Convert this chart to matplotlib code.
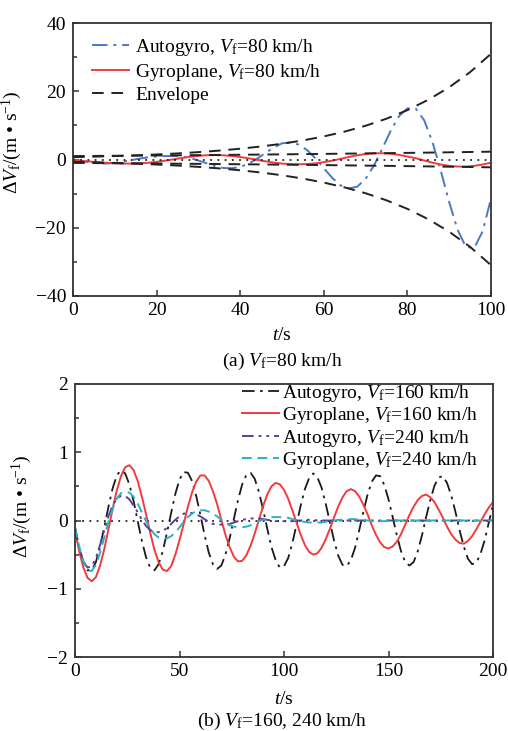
import numpy as np
import matplotlib
matplotlib.use('Agg')
import matplotlib.pyplot as plt

# --- Fonts ---
plt.rcParams['font.family'] = ['Liberation Serif', 'DejaVu Serif']
plt.rcParams['mathtext.fontset'] = 'custom'
plt.rcParams['mathtext.rm'] = 'Liberation Serif'
plt.rcParams['mathtext.it'] = 'Liberation Serif:italic'
plt.rcParams['font.size'] = 14

# --- (a) Vf = 80 km/h, sampled every 2 s ---
t_80 = list(range(0, 101, 2))
autogyro_80 = [0.06, -0.44, -0.87, -1.14, -1.19, -0.99, -0.62, -0.17, 0.27, 0.65,
               0.91, 1.00, 1.05, 0.88, 0.43, -0.29, -1.12, -1.93, -2.49, -2.56,
               -2.18, -1.22, 0.19, 1.87, 3.50, 4.74, 4.98, 4.38, 2.76, 0.35,
               -2.55, -5.37, -7.58, -8.45, -7.97, -5.67, -1.77, 3.20, 8.41, 12.71,
               15.00, 14.89, 11.52, 5.15, -3.35, -12.51, -20.57, -25.65, -25.88, -21.05,
               -11.47]
gyroplane_80 = [-0.20, -0.40, -0.60, -0.80, -0.97, -1.10, -1.18, -1.20, -1.14, -0.96,
                -0.69, -0.35, 0.03, 0.43, 0.79, 1.08, 1.25, 1.30, 1.22, 1.03,
                0.73, 0.35, -0.08, -0.52, -0.90, -1.19, -1.36, -1.40, -1.33, -1.12,
                -0.78, -0.34, 0.18, 0.75, 1.24, 1.61, 1.81, 1.84, 1.68, 1.35,
                0.88, 0.37, -0.29, -0.93, -1.47, -1.86, -2.07, -2.07, -1.87, -1.47,
                -0.93]

# envelopes (upper half, mirrored for the lower one)
t_env_auto = list(range(0, 101, 5))
env_autogyro = [0.69, 0.83, 1.01, 1.22, 1.47, 1.78, 2.16, 2.61, 3.16, 3.82, 4.62,
                5.59, 6.76, 8.18, 9.89, 11.96, 14.47, 17.50, 21.17, 25.60, 30.97]
t_env_gyro = list(range(0, 101, 10))
env_gyroplane = [1.00, 1.09, 1.18, 1.28, 1.39, 1.51, 1.64, 1.79, 1.94, 2.11, 2.29]

# --- (b) Vf = 160, 240 km/h, sampled every 2 s ---
t_b = list(range(0, 201, 2))
autogyro_160 = [-0.10, -0.39, -0.61, -0.73, -0.73, -0.61, -0.38, -0.10, 0.20, 0.47,
                0.66, 0.74, 0.69, 0.53, 0.29, -0.01, -0.30, -0.54, -0.69, -0.73,
                -0.64, -0.45, -0.18, 0.11, 0.39, 0.60, 0.71, 0.70, 0.58, 0.36,
                0.08, -0.21, -0.47, -0.64, -0.71, -0.66, -0.50, -0.26, 0.02, 0.30,
                0.53, 0.67, 0.70, 0.61, 0.42, 0.16, -0.12, -0.39, -0.58, -0.69,
                -0.67, -0.55, -0.33, -0.06, 0.22, 0.46, 0.62, 0.69, 0.63, 0.48,
                0.24, -0.03, -0.30, -0.52, -0.65, -0.67, -0.58, -0.40, -0.14, 0.13,
                0.38, 0.57, 0.66, 0.65, 0.52, 0.31, 0.05, -0.22, -0.45, -0.61,
                -0.66, -0.61, -0.45, -0.22, 0.05, 0.30, 0.51, 0.63, 0.65, 0.55,
                0.37, 0.13, -0.14, -0.38, -0.56, -0.64, -0.62, -0.49, -0.29, -0.03,
                0.23]
gyroplane_160 = [-0.14, -0.45, -0.69, -0.84, -0.89, -0.83, -0.66, -0.42, -0.13, 0.17,
                 0.44, 0.65, 0.78, 0.81, 0.74, 0.58, 0.35, 0.09, -0.18, -0.43,
                 -0.61, -0.72, -0.74, -0.67, -0.50, -0.29, -0.05, 0.20, 0.41, 0.57,
                 0.66, 0.66, 0.58, 0.43, 0.24, 0.01, -0.21, -0.39, -0.53, -0.60,
                 -0.59, -0.51, -0.37, -0.19, 0.01, 0.21, 0.38, 0.50, 0.55, 0.53,
                 0.45, 0.32, 0.15, -0.03, -0.21, -0.36, -0.46, -0.50, -0.48, -0.40,
                 -0.27, -0.12, 0.05, 0.21, 0.34, 0.43, 0.46, 0.43, 0.35, 0.23,
                 0.09, -0.07, -0.21, -0.32, -0.39, -0.41, -0.38, -0.31, -0.20, -0.06,
                 0.08, 0.20, 0.30, 0.36, 0.38, 0.34, 0.27, 0.16, 0.04, -0.09,
                 -0.20, -0.28, -0.33, -0.34, -0.30, -0.23, -0.13, -0.02, 0.09, 0.19,
                 0.27]
autogyro_240 = [-0.12, -0.40, -0.60, -0.69, -0.67, -0.55, -0.36, -0.14, 0.06, 0.22,
                0.32, 0.36, 0.36, 0.31, 0.22, 0.12, 0.01, -0.08, -0.14, -0.17,
                -0.17, -0.15, -0.11, -0.05, 0.01, 0.06, 0.10, 0.11, 0.11, 0.09,
                0.06, 0.02, -0.02, -0.05, -0.06, -0.06, -0.06, -0.05, -0.03, -0.01,
                0.01, 0.02, 0.03, 0.03, 0.03, 0.02, 0.01, 0.00, -0.01, -0.01,
                -0.01, -0.01, -0.01, 0.00, 0.00, 0.01, 0.01, 0.01, 0.00, 0.00,
                0.00, 0.00, 0.00, 0.00, 0.00, 0.00, 0.00, 0.00, 0.00, 0.00,
                0.00, 0.00, 0.00, 0.00, 0.00, 0.00, 0.00, 0.00, 0.00, 0.00,
                0.00, 0.00, 0.00, 0.00, 0.00, 0.00, 0.00, 0.00, 0.00, 0.00,
                0.00, 0.00, 0.00, 0.00, 0.00, 0.00, 0.00, 0.00, 0.00, 0.00,
                0.00]
gyroplane_240 = [-0.10, -0.38, -0.60, -0.73, -0.74, -0.65, -0.47, -0.25, -0.02, 0.17,
                 0.32, 0.40, 0.42, 0.41, 0.35, 0.25, 0.12, -0.01, -0.12, -0.20,
                 -0.25, -0.26, -0.26, -0.23, -0.17, -0.10, -0.02, 0.05, 0.10, 0.14,
                 0.15, 0.15, 0.13, 0.10, 0.06, 0.01, -0.03, -0.07, -0.09, -0.10,
                 -0.10, -0.09, -0.07, -0.04, -0.01, 0.01, 0.03, 0.05, 0.05, 0.05,
                 0.05, 0.04, 0.02, 0.00, -0.01, -0.02, -0.03, -0.03, -0.03, -0.03,
                 -0.02, -0.01, 0.00, 0.01, 0.01, 0.02, 0.02, 0.02, 0.01, 0.01,
                 0.00, -0.01, -0.01, -0.01, -0.01, 0.00, 0.00, 0.00, 0.00, 0.00,
                 0.00, 0.00, 0.00, 0.00, 0.00, 0.00, 0.00, 0.00, 0.00, 0.00,
                 0.00, 0.00, 0.00, 0.00, 0.00, 0.00, 0.00, 0.00, 0.00, 0.00,
                 0.00]

VF = r'$V_\mathrm{f}$'
FS = 14


def style_axes(ax):
    for sp in ax.spines.values():
        sp.set_linewidth(1.3)
        sp.set_color('#333333')
    ax.tick_params(which='both', direction='in', width=1.1, color='#333333')
    ax.tick_params(which='major', length=4.5, labelsize=FS)
    ax.tick_params(axis='x', pad=4)
    ax.tick_params(axis='y', pad=5)
    ax.tick_params(which='minor', length=3)


fig = plt.figure(figsize=(5.08, 7.31), dpi=100)

# ---------- (a) ----------
ax1 = fig.add_axes([73 / 508, 1 - 296 / 731, 418 / 508, 273 / 731])
ax1.plot(t_80, autogyro_80, color='#4a78c2', lw=1.4, dashes=(8, 3, 1.5, 3),
         label='Autogyro, ' + VF + '=80 km/h')
ax1.plot(t_80, gyroplane_80, color='#f23b3b', lw=1.4,
         label='Gyroplane, ' + VF + '=80 km/h')
ax1.plot(t_env_auto, env_autogyro, color='#222222', lw=1.4, dashes=(6, 4), label='Envelope')
ax1.plot(t_env_auto, -np.array(env_autogyro), color='#222222', lw=1.4, dashes=(6, 4))
ax1.plot(t_env_gyro, env_gyroplane, color='#222222', lw=1.4, dashes=(6, 4))
ax1.plot(t_env_gyro, -np.array(env_gyroplane), color='#222222', lw=1.4, dashes=(6, 4))
ax1.axhline(0, color='#222222', lw=1.3, ls=(0, (1, 3)))
ax1.set_xlim(0, 100)
ax1.set_ylim(-40, 40)
ax1.set_xticks(range(0, 101, 20))
ax1.set_yticks(range(-40, 41, 20))
ax1.set_yticks(range(-30, 31, 20), minor=True)
style_axes(ax1)
ax1.set_xlabel(r'$t$/s', fontsize=FS)
ax1.xaxis.set_label_coords(0.5, -0.115)
ax1.set_ylabel(r'$\Delta V_\mathrm{f}$/(m • s$^{-1}$)', fontsize=FS)
ax1.yaxis.set_label_coords(-0.118, 0.565)
ax1.legend(loc='upper left', bbox_to_anchor=(0.046, 0.95), frameon=False,
           fontsize=FS, handlelength=1.9, handletextpad=0.3, labelspacing=0.2,
           borderpad=0, borderaxespad=0)
fig.text(282 / 508, 1 - 361 / 731, '(a) ' + VF + '=80 km/h', ha='center', va='center',
         fontsize=FS)

# ---------- (b) ----------
ax2 = fig.add_axes([75 / 508, 1 - 657 / 731, 418 / 508, 273 / 731])
ax2.plot(t_b, autogyro_160, color='#1a1a1a', lw=1.3, dashes=(7, 3, 1.5, 3),
         label='Autogyro, ' + VF + '=160 km/h')
ax2.plot(t_b, gyroplane_160, color='#f23b3b', lw=1.4,
         label='Gyroplane, ' + VF + '=160 km/h')
ax2.plot(t_b, autogyro_240, color='#5a3e9e', lw=1.4, dashes=(6, 2.5, 1.5, 2.5, 1.5, 2.5),
         label='Autogyro, ' + VF + '=240 km/h')
ax2.plot(t_b, gyroplane_240, color='#2ab3bd', lw=1.4, dashes=(5, 3),
         label='Gyroplane, ' + VF + '=240 km/h')
ax2.axhline(0, color='#222222', lw=1.3, ls=(0, (1, 3)), zorder=0)
ax2.set_xlim(0, 200)
ax2.set_ylim(-2, 2)
ax2.set_xticks(range(0, 201, 50))
ax2.set_yticks([-2, -1, 0, 1, 2])
ax2.set_yticks([-1.5, -0.5, 0.5, 1.5], minor=True)
style_axes(ax2)
ax2.set_xlabel(r'$t$/s', fontsize=FS)
ax2.xaxis.set_label_coords(0.5, -0.125)
ax2.set_ylabel(r'$\Delta V_\mathrm{f}$/(m • s$^{-1}$)', fontsize=FS)
ax2.yaxis.set_label_coords(-0.098, 0.553)
ax2.legend(loc='upper right', bbox_to_anchor=(0.965, 1.005), frameon=False,
           fontsize=FS, handlelength=1.9, handletextpad=0.2, labelspacing=0.08,
           borderpad=0, borderaxespad=0)
fig.text(282 / 508, 1 - 721 / 731, '(b) ' + VF + '=160, 240 km/h', ha='center', va='center',
         fontsize=FS)

fig.savefig('out.png', dpi=100)
plt.close(fig)
